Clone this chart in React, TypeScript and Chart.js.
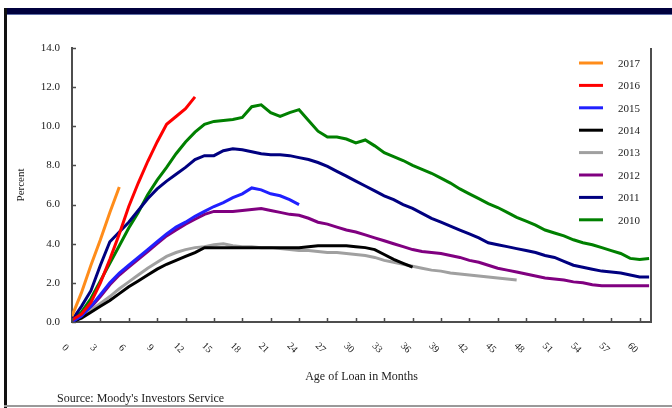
import React, { useEffect, useRef } from "react";
import { Chart, registerables } from "chart.js";

Chart.register(...registerables);

// ---------- data ----------
const seriesLabels = ["2017", "2016", "2015", "2014", "2013", "2012", "2011", "2010"];
const seriesColors = ["#ff8c1a", "#ff0000", "#2020ff", "#000000", "#a0a0a0", "#800080", "#000080", "#008000"];

// cumulative default rate (%) by month of age, index = month
const s2017 = [0.3, 1.5, 2.9, 4.2, 5.6, 6.9];
const s2016 = [0.1, 0.4, 1.0, 2.0, 3.2, 4.5, 5.9, 7.1, 8.2, 9.2, 10.1, 10.5, 10.9, 11.5];
const s2015 = [0, 0.3, 0.8, 1.4, 2.0, 2.5, 2.9, 3.3, 3.7, 4.1, 4.5, 4.85, 5.1, 5.4, 5.65, 5.9, 6.1, 6.35, 6.55,
  6.85, 6.75, 6.55, 6.45, 6.25, 6.0];
const s2014 = [0, 0.2, 0.5, 0.8, 1.1, 1.45, 1.8, 2.1, 2.4, 2.7, 2.95, 3.15, 3.35, 3.55, 3.8, 3.8, 3.8, 3.8, 3.8,
  3.8, 3.8, 3.8, 3.8, 3.8, 3.8, 3.85, 3.9, 3.9, 3.9, 3.9, 3.85, 3.8, 3.7, 3.45, 3.2, 3.0, 2.8];
const s2013 = [0, 0.25, 0.6, 0.95, 1.3, 1.7, 2.05, 2.4, 2.75, 3.05, 3.35, 3.55, 3.7, 3.8, 3.85, 3.95, 4.0, 3.9,
  3.85, 3.85, 3.8, 3.8, 3.75, 3.7, 3.65, 3.65, 3.6, 3.55, 3.55, 3.5, 3.45, 3.4, 3.3, 3.15, 3.05, 2.95, 2.85,
  2.75, 2.65, 2.6, 2.5, 2.45, 2.4, 2.35, 2.3, 2.25, 2.2, 2.15];
const s2012 = [0, 0.3, 0.75, 1.3, 1.9, 2.4, 2.8, 3.2, 3.6, 4.0, 4.4, 4.7, 5.0, 5.25, 5.5, 5.65, 5.65, 5.65, 5.7,
  5.75, 5.8, 5.7, 5.6, 5.5, 5.45, 5.3, 5.1, 5.0, 4.85, 4.7, 4.6, 4.45, 4.3, 4.15, 4.0, 3.85, 3.7, 3.6, 3.55,
  3.5, 3.4, 3.3, 3.15, 3.05, 2.9, 2.75, 2.65, 2.55, 2.45, 2.35, 2.25, 2.2, 2.15, 2.05, 2.0, 1.9, 1.85, 1.85,
  1.85, 1.85, 1.85, 1.85];
const s2011 = [0.1, 0.8, 1.6, 2.9, 4.1, 4.6, 5.1, 5.7, 6.3, 6.8, 7.2, 7.55, 7.9, 8.3, 8.5, 8.5, 8.75, 8.85, 8.8,
  8.7, 8.6, 8.55, 8.55, 8.5, 8.4, 8.3, 8.15, 7.95, 7.7, 7.45, 7.2, 6.95, 6.7, 6.45, 6.25, 6.0, 5.8, 5.55, 5.3,
  5.1, 4.9, 4.7, 4.5, 4.3, 4.05, 3.95, 3.85, 3.75, 3.65, 3.55, 3.4, 3.3, 3.1, 2.9, 2.8, 2.7, 2.6, 2.55, 2.5,
  2.4, 2.3, 2.3];
const s2010 = [0.1, 0.5, 1.2, 2.1, 3.0, 3.9, 4.8, 5.6, 6.5, 7.25, 7.9, 8.6, 9.2, 9.7, 10.1, 10.25, 10.3, 10.35,
  10.45, 11.0, 11.1, 10.7, 10.5, 10.7, 10.85, 10.3, 9.75, 9.45, 9.45, 9.35, 9.15, 9.3, 9.0, 8.65, 8.45, 8.25,
  8.0, 7.8, 7.6, 7.35, 7.1, 6.8, 6.55, 6.3, 6.05, 5.85, 5.6, 5.35, 5.15, 4.95, 4.7, 4.55, 4.4, 4.2, 4.05, 3.95,
  3.8, 3.65, 3.5, 3.25, 3.2, 3.25];

const seriesValues = [s2017, s2016, s2015, s2014, s2013, s2012, s2011, s2010];

const xTickValues = [0, 3, 6, 9, 12, 15, 18, 21, 24, 27, 30, 33, 36, 39, 42, 45, 48, 51, 54, 57, 60];
const xTickLabels = ["0", "3", "6", "9", "12", "15", "18", "21", "24", "27", "30", "33", "36", "39", "42", "45",
  "48", "51", "54", "57", "60"];
const yTickValues = [0, 2, 4, 6, 8, 10, 12, 14];

const xTitle = "Age of Loan in Months";
const yTitle = "Percent";
const sourceText = "Source: Moody's Investors Service";

const FONT = '"Liberation Serif", "Times New Roman", serif';

const decorPlugin = {
  id: "decor",
  afterDraw(chart: any) {
    const { ctx, chartArea } = chart;
    const x = chart.scales.x;
    const y = chart.scales.y;
    ctx.save();
    // right frame line
    ctx.strokeStyle = "#4d4d4d";
    ctx.lineWidth = 2;
    ctx.beginPath();
    ctx.moveTo(chartArea.right, chartArea.top);
    ctx.lineTo(chartArea.right, chartArea.bottom + 1);
    ctx.stroke();
    // inward tick marks
    ctx.lineWidth = 1.5;
    ctx.beginPath();
    xTickValues.forEach((v) => {
      const px = Math.round(x.getPixelForValue(v)) + 0.5;
      ctx.moveTo(px, chartArea.bottom);
      ctx.lineTo(px, chartArea.bottom - 4);
    });
    yTickValues.forEach((v) => {
      const py = Math.round(y.getPixelForValue(v)) + 0.5;
      ctx.moveTo(chartArea.left, py);
      ctx.lineTo(chartArea.left + 4, py);
    });
    ctx.stroke();
    // rotated x labels
    ctx.font = "10px " + FONT;
    ctx.fillStyle = "#222";
    ctx.textAlign = "center";
    ctx.textBaseline = "middle";
    xTickValues.forEach((v, i) => {
      const px = x.getPixelForValue(v);
      ctx.save();
      ctx.translate(px - 7, chartArea.bottom + 26);
      ctx.rotate(Math.PI / 4);
      ctx.fillText(xTickLabels[i], 0, 0);
      ctx.restore();
    });
    // legend
    ctx.font = "11px " + FONT;
    ctx.textAlign = "left";
    chart.data.datasets.forEach((ds: any, i: number) => {
      const ly = 63 + i * 22.4;
      ctx.strokeStyle = ds.borderColor;
      ctx.lineWidth = 3;
      ctx.beginPath();
      ctx.moveTo(579, ly);
      ctx.lineTo(603, ly);
      ctx.stroke();
      ctx.fillStyle = "#222";
      ctx.fillText(ds.label, 618, ly + 1);
    });
    ctx.restore();
  },
};

export default function App() {
  const canvasRef = useRef<HTMLCanvasElement | null>(null);

  useEffect(() => {
    if (!canvasRef.current) return;
    Chart.defaults.font.family = FONT;
    const datasets = seriesLabels.map((label, i) => ({
      label,
      data: seriesValues[i].map((v, m) => ({ x: m, y: v })),
      borderColor: seriesColors[i],
      backgroundColor: seriesColors[i],
      borderWidth: 3,
      pointRadius: 0,
      tension: 0,
      fill: false,
    }));
    const chart = new Chart(canvasRef.current, {
      type: "line",
      data: { datasets },
      options: {
        animation: false,
        responsive: false,
        maintainAspectRatio: false,
        layout: { padding: { left: 0, right: 21, top: 48, bottom: 0 } },
        plugins: { legend: { display: false }, tooltip: { enabled: false } },
        scales: {
          x: {
            type: "linear",
            min: 0,
            max: 61.2,
            grid: { display: false, drawTicks: false },
            border: { display: true, color: "#4d4d4d", width: 2 },
            ticks: { display: false },
            title: {
              display: true,
              text: xTitle,
              color: "#222",
              font: { size: 12, family: FONT },
              padding: { top: 0, bottom: 24 },
            },
            afterFit: (scale: any) => {
              scale.height = 86;
            },
          },
          y: {
            min: 0,
            max: 14,
            grid: { display: false, drawTicks: false },
            border: { display: true, color: "#4d4d4d", width: 2 },
            ticks: {
              stepSize: 2,
              padding: 12,
              color: "#222",
              font: { size: 11, family: FONT },
              callback: (v: any) => Number(v).toFixed(1),
            },
            title: {
              display: true,
              text: yTitle,
              color: "#222",
              font: { size: 11, family: FONT },
              padding: { top: 15, bottom: 0 },
            },
            afterFit: (scale: any) => {
              scale.width = 72;
            },
          },
        },
      },
      plugins: [decorPlugin],
    });
    return () => chart.destroy();
  }, []);

  return (
    <div
      style={{
        position: "fixed",
        left: 0,
        top: 0,
        width: 672,
        height: 408,
        background: "#fff",
        overflow: "hidden",
      }}
    >
      <div style={{ position: "absolute", left: 4, top: 8, right: 0, height: 6, background: "#00003d" }} />
      <div style={{ position: "absolute", left: 4, top: 14, right: 0, height: 1, background: "#6070a8" }} />
      <div style={{ position: "absolute", left: 4, top: 8, width: 3, bottom: 0, background: "#111" }} />
      <div style={{ position: "absolute", left: 4, top: 405, right: 0, height: 2, background: "#999" }} />
      <canvas ref={canvasRef} width={672} height={408} style={{ position: "absolute", left: 0, top: 0 }} />
      <div
        style={{
          position: "absolute",
          left: 57,
          top: 391,
          font: "12px " + FONT,
          color: "#222",
          whiteSpace: "nowrap",
        }}
      >
        {sourceText}
      </div>
    </div>
  );
}
